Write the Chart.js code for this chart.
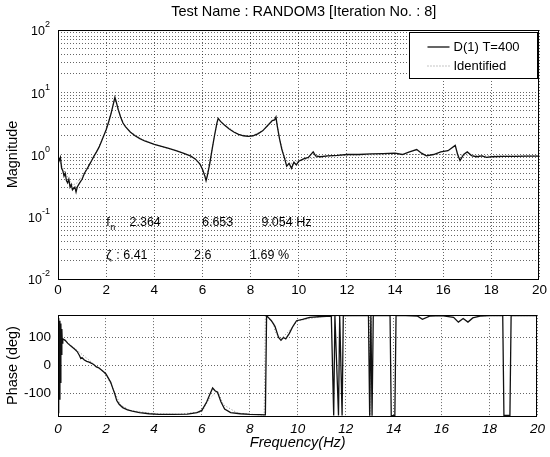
<!DOCTYPE html>
<html>
<head>
<meta charset="utf-8">
<title>RANDOM3 FRF</title>
<script src="https://cdn.jsdelivr.net/npm/chart.js@4.4.0/dist/chart.umd.min.js"></script>
<style>
  body { margin: 0; background: #fff; }
  #wrap { position: relative; width: 550px; height: 457px; }
  .box { position: absolute; left: 0; width: 550px; }
</style>
</head>
<body>
<div id="wrap">
  <div class="box" style="top:0;height:300px"><canvas id="magChart"></canvas></div>
  <div class="box" style="top:300px;height:157px"><canvas id="phaseChart"></canvas></div>
</div>
<script>
// Measured FRF, D(1) T=400
const measFreq = [0, 0.05, 0.1, 0.15, 0.2, 0.25, 0.3, 0.35, 0.4, 0.45, 0.5, 0.55, 0.6, 0.7, 0.75, 0.8, 0.9, 1.0, 1.1, 1.2,
  1.3, 1.4, 1.5, 1.6, 1.7, 1.8, 1.9, 2.0, 2.1, 2.2, 2.3, 2.364, 2.42, 2.5, 2.6, 2.7, 2.8, 3.0, 3.2, 3.4,
  3.6, 3.8, 4.0, 4.3, 4.6, 4.9, 5.2, 5.5, 5.7, 5.9, 6.0, 6.1, 6.15, 6.2, 6.3, 6.4, 6.5, 6.6, 6.653, 6.75,
  6.9, 7.1, 7.3, 7.5, 7.7, 7.9, 8.1, 8.3, 8.5, 8.7, 8.9, 9.0, 9.054, 9.1, 9.2, 9.3, 9.4, 9.5, 9.6, 9.7,
  9.8, 9.9, 10.0, 10.2, 10.4, 10.6, 10.7, 10.9, 11.2, 11.6, 12.0, 12.5, 13.0, 13.5, 14.0, 14.3, 14.6, 14.9, 15.1, 15.3,
  15.6, 15.9, 16.2, 16.5, 16.6, 16.7, 16.85, 17.0, 17.2, 17.4, 17.6, 17.8, 18.0, 18.5, 19.0, 19.5, 20.0];
const measMag = [0.95, 0.8, 0.9, 0.6, 0.55, 0.45, 0.5, 0.38, 0.35, 0.4, 0.3, 0.33, 0.27, 0.3, 0.25, 0.3, 0.35, 0.4, 0.5, 0.58,
  0.68, 0.8, 0.95, 1.1, 1.3, 1.6, 2.0, 2.5, 3.3, 4.5, 6.5, 8.3, 7.0, 5.3, 4.0, 3.2, 2.8, 2.3, 2.0, 1.8,
  1.65, 1.55, 1.45, 1.35, 1.25, 1.15, 1.05, 0.95, 0.85, 0.7, 0.58, 0.45, 0.38, 0.45, 0.7, 1.2, 2.0, 3.2, 3.8, 3.4,
  3.0, 2.6, 2.3, 2.1, 2.0, 1.95, 2.0, 2.15, 2.4, 2.9, 3.5, 3.6, 4.0, 3.0, 1.8, 1.2, 0.9, 0.65, 0.72, 0.6,
  0.75, 0.68, 0.78, 0.85, 0.9, 1.1, 0.95, 0.92, 0.95, 0.97, 1.0, 1.0, 1.02, 1.03, 1.05, 1.0, 1.1, 1.2, 1.05, 0.95,
  1.0, 1.1, 1.15, 1.4, 1.0, 0.8, 1.0, 1.1, 0.95, 0.92, 0.95, 0.9, 0.92, 0.93, 0.93, 0.94, 0.94];

// Identified modal fit
const fitFreq = [0, 0.3, 0.6, 0.8, 1.2, 1.6, 2.0, 2.2, 2.364, 2.5, 2.7, 3.0, 3.5, 4.0, 5.0, 5.6, 5.9, 6.15, 6.3, 6.5,
  6.653, 6.9, 7.5, 8.0, 8.5, 8.9, 9.054, 9.2, 9.4, 9.6, 10.0, 11.0, 12.0, 14.0, 16.0, 18.0, 20.0];
const fitMag = [0.9, 0.5, 0.32, 0.35, 0.6, 1.1, 2.5, 4.6, 8.0, 5.2, 3.2, 2.3, 1.75, 1.45, 1.12, 0.9, 0.7, 0.42, 0.75, 2.0,
  3.7, 3.0, 2.1, 1.95, 2.4, 3.4, 3.9, 1.8, 0.95, 0.7, 0.8, 0.93, 0.97, 1.0, 1.0, 0.95, 0.95];

// Phase (deg)
const measPhFreq = [0, 0.02, 0.04, 0.06, 0.08, 0.1, 0.12, 0.14, 0.16, 0.18, 0.2, 0.3, 0.4, 0.5, 0.6, 0.7, 0.8, 0.9, 0.95, 1.0,
  1.1, 1.2, 1.3, 1.4, 1.5, 1.6, 1.7, 1.8, 1.9, 2.0, 2.1, 2.2, 2.3, 2.364, 2.45, 2.55, 2.7, 2.9, 3.1, 3.4,
  3.8, 4.2, 4.8, 5.4, 5.8, 6.0, 6.2, 6.35, 6.45, 6.55, 6.653, 6.8, 6.95, 7.2, 7.6, 8.0, 8.4, 8.65, 8.7, 8.9,
  9.05, 9.2, 9.3, 9.4, 9.5, 9.65, 9.8, 9.95, 10.2, 10.5, 11.0, 11.4, 11.5, 11.55, 11.7, 11.75, 11.85, 11.9, 12.5, 12.95,
  13.0, 13.05, 13.1, 13.15, 13.85, 13.9, 14.05, 14.1, 14.5, 15.0, 15.2, 15.5, 16.0, 16.5, 16.7, 16.9, 17.1, 17.3, 17.6, 18.0,
  18.55, 18.6, 18.85, 18.9, 20.0];
const measPhase = [100, -170, 170, -120, 160, -60, 150, 40, 130, 80, 95, 90, 80, 72, 65, 58, 50, 35, 25, 28,
  20, 15, 12, 8, 3, -5, -8, -15, -22, -30, -45, -60, -85, -100, -125, -138, -150, -158, -163, -168,
  -172, -174, -174, -173, -168, -160, -130, -100, -80, -90, -95, -130, -155, -168, -172, -174, -175, -176, 178, 160,
  140, 100, 90, 100, 95, 115, 140, 160, 165, 172, 175, 176, -178, 178, -178, 178, -178, 178, 178, 179,
  -179, 179, -179, 178, 178, -179, -179, 178, 178, 176, 165, 176, 178, 172, 155, 168, 155, 170, 176, 178,
  178, -178, -178, 178, 178];

const fitPhFreq = [0, 0.15, 0.5, 1.0, 1.5, 2.0, 2.364, 2.6, 3.0, 4.0, 5.0, 6.0, 6.3, 6.653, 6.9, 7.5, 8.6, 8.65, 9.0, 9.054,
  9.3, 9.6, 10.0, 11.0, 12.0, 13.0, 13.02, 13.08, 16.0, 20.0];
const fitPhase = [170, 100, 75, 40, 5, -30, -95, -140, -160, -172, -174, -165, -120, -90, -140, -170, -177, 178, 150, 120,
  95, 120, 160, 175, 178, 179, -179, 179, 178, 178];

const freqTicks = [0, 2, 4, 6, 8, 10, 12, 14, 16, 18, 20];
const magDecades = [0.01, 0.1, 1, 10, 100];
const phaseTicks = [-100, 0, 100];

// identified parameters
const natFreqs = [2.364, 6.653, 9.054];
const dampings = [6.41, 2.6, 1.69];

const FONT = "'Liberation Sans', Arial, Helvetica, sans-serif";
Chart.defaults.font.family = FONT;
Chart.defaults.font.size = 13.5;
Chart.defaults.color = '#000';

function pairs(xs, ys) {
  return xs.map((x, i) => ({ x: x, y: ys[i] }));
}

// minor grid lines on the log axis: 1..9 per decade
const magGrid = [];
magDecades.forEach((d, i) => {
  if (i === magDecades.length - 1) { magGrid.push(d); return; }
  for (let k = 1; k < 10; k++) magGrid.push(+(d * k).toPrecision(3));
});

const gridStyle = { color: 'rgba(0,0,0,0.6)', lineWidth: 1, drawTicks: false };
const borderStyle = { display: false, dash: [1, 2] };

const frame = {
  id: 'frame',
  afterDraw(chart) {
    const { ctx, chartArea: a } = chart;
    ctx.save();
    ctx.strokeStyle = '#000';
    ctx.lineWidth = 1;
    ctx.strokeRect(Math.round(a.left) + 0.5, Math.round(a.top) + 0.5,
      Math.round(a.right - a.left) - 1, Math.round(a.bottom - a.top));
    ctx.restore();
  }
};

const magDecor = {
  id: 'magDecor',
  afterDraw(chart) {
    const { ctx, chartArea: a, scales } = chart;
    const x = scales.x, y = scales.y;
    ctx.save();
    ctx.fillStyle = '#000';

    // title
    ctx.font = '14.5px ' + FONT;
    ctx.textAlign = 'center';
    ctx.textBaseline = 'middle';
    ctx.fillText('Test Name : RANDOM3 [Iteration No. : 8]', (a.left + a.right) / 2 + 5, 12);

    // log tick labels 10^n
    ctx.textAlign = 'left';
    magDecades.forEach(v => {
      const py = y.getPixelForValue(v);
      const exp = String(Math.round(Math.log10(v)));
      ctx.font = '9px ' + FONT;
      const ew = ctx.measureText(exp).width;
      ctx.font = '12.5px ' + FONT;
      const tw = ctx.measureText('10').width;
      const right = a.left - 8;
      ctx.fillText('10', right - ew - tw, py + 2);
      ctx.font = '9px ' + FONT;
      ctx.fillText(exp, right - ew, py - 5);
    });

    // identified parameters
    const rowF = y.getPixelForValue(0.082);
    const rowZ = y.getPixelForValue(0.0235);
    const cols = [2.97, 5.98, 8.45];
    ctx.font = '12.5px ' + FONT;
    ctx.fillText('f', x.getPixelForValue(2.0), rowF);
    ctx.font = '9px ' + FONT;
    ctx.fillText('n', x.getPixelForValue(2.0) + 4, rowF + 5);
    ctx.font = '12.5px ' + FONT;
    natFreqs.forEach((f, i) => {
      const t = f.toFixed(3) + (i === natFreqs.length - 1 ? ' Hz' : '');
      ctx.fillText(t, x.getPixelForValue(cols[i]), rowF);
    });
    ctx.fillText('\u03B6', x.getPixelForValue(2.0), rowZ);
    ctx.fillText(': ' + dampings[0], x.getPixelForValue(2.42), rowZ);
    ctx.fillText(String(dampings[1]), x.getPixelForValue(5.65), rowZ);
    ctx.fillText(dampings[2] + ' %', x.getPixelForValue(7.98), rowZ);

    // legend box in the upper right corner
    const lx = a.right - 130, ly = a.top + 2, lw = 128, lh = 46;
    ctx.fillStyle = '#fff';
    ctx.fillRect(lx, ly, lw, lh);
    ctx.strokeStyle = '#000';
    ctx.lineWidth = 1;
    ctx.strokeRect(Math.round(lx) + 0.5, Math.round(ly) + 0.5, lw, lh);
    chart.data.datasets.forEach((ds, i) => {
      const yy = ly + 15 + i * 19;
      ctx.strokeStyle = ds.borderColor;
      ctx.lineWidth = ds.borderWidth;
      ctx.setLineDash(ds.borderDash || []);
      ctx.beginPath();
      ctx.moveTo(lx + 18, yy);
      ctx.lineTo(lx + 40, yy);
      ctx.stroke();
      ctx.setLineDash([]);
      ctx.fillStyle = '#000';
      ctx.font = '13px ' + FONT;
      ctx.textBaseline = 'middle';
      ctx.fillText(ds.label, lx + 44, yy);
    });
    ctx.restore();
  }
};

new Chart(document.getElementById('magChart'), {
  type: 'line',
  data: {
    datasets: [
      { label: 'D(1) T=400', data: pairs(measFreq, measMag), borderColor: '#111', borderWidth: 1.3,
        pointRadius: 0, tension: 0 },
      { label: 'Identified', data: pairs(fitFreq, fitMag), borderColor: '#8a8a8a', borderWidth: 1,
        borderDash: [1, 2], pointRadius: 0, tension: 0 }
    ]
  },
  options: {
    responsive: true,
    maintainAspectRatio: false,
    animation: false,
    layout: { padding: { top: 30, right: 7, left: 0, bottom: 0 } },
    plugins: { legend: { display: false }, tooltip: { enabled: false } },
    scales: {
      x: {
        type: 'linear', min: 0, max: 20,
        afterBuildTicks: s => { s.ticks = freqTicks.map(v => ({ value: v })); },
        afterFit: s => { s.height = 21; },
        ticks: { padding: 3, maxRotation: 0, autoSkip: false },
        grid: gridStyle, border: borderStyle
      },
      y: {
        type: 'logarithmic', min: 0.01, max: 100,
        afterBuildTicks: s => { s.ticks = magGrid.map(v => ({ value: v })); },
        afterFit: s => { s.width = 58; },
        ticks: { callback: () => '', autoSkip: false },
        title: { display: true, text: 'Magnitude', padding: { top: 4, bottom: 0 }, font: { size: 14.5 } },
        grid: gridStyle, border: borderStyle
      }
    }
  },
  plugins: [frame, magDecor]
});

new Chart(document.getElementById('phaseChart'), {
  type: 'line',
  data: {
    datasets: [
      { label: 'D(1) T=400', data: pairs(measPhFreq, measPhase), borderColor: '#111', borderWidth: 1.3,
        pointRadius: 0, tension: 0 },
      { label: 'Identified', data: pairs(fitPhFreq, fitPhase), borderColor: '#8a8a8a', borderWidth: 1,
        borderDash: [1, 2], pointRadius: 0, tension: 0 }
    ]
  },
  options: {
    responsive: true,
    maintainAspectRatio: false,
    animation: false,
    layout: { padding: { top: 6, right: 7, left: 0, bottom: 0 } },
    plugins: { legend: { display: false }, tooltip: { enabled: false } },
    scales: {
      x: {
        type: 'linear', min: 0, max: 20,
        afterBuildTicks: s => { s.ticks = freqTicks.map(v => ({ value: v })); },
        afterFit: s => { s.height = 41; },
        ticks: { padding: 5, maxRotation: 0, autoSkip: false, font: { style: 'italic' } },
        title: { display: true, text: 'Frequency(Hz)', padding: { top: 0, bottom: 5 }, font: { size: 14.5, style: 'italic' } },
        grid: gridStyle, border: borderStyle
      },
      y: {
        type: 'linear', min: -180, max: 180,
        afterBuildTicks: s => { s.ticks = phaseTicks.map(v => ({ value: v })); },
        afterFit: s => { s.width = 58; },
        ticks: { padding: 7, autoSkip: false },
        title: { display: true, text: 'Phase (deg)', padding: { top: 4, bottom: 0 }, font: { size: 14.5 } },
        grid: gridStyle, border: borderStyle
      }
    }
  },
  plugins: [frame]
});
</script>
</body>
</html>
